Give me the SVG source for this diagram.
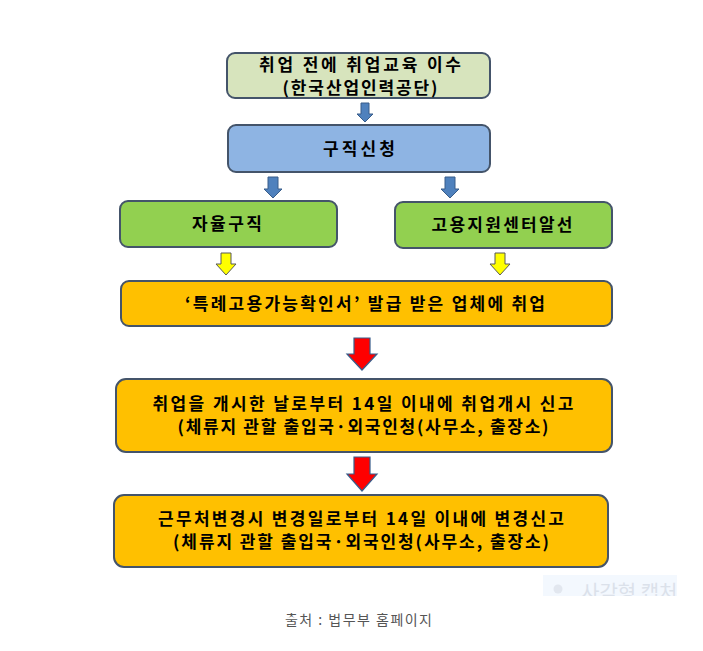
<svg xmlns="http://www.w3.org/2000/svg" width="703" height="651" viewBox="0 0 703 651">
<style>
  .box { stroke: #44546a; stroke-width: 2; }
  .t { font-family: "Noto Sans CJK KR", "Noto Sans", sans-serif; font-weight: bold; font-size: 17px; fill: #000; text-anchor: middle; }
  .blue { fill: #4f81bd; stroke: #385d8a; stroke-width: 1; }
  .yellow { fill: #ffff00; stroke: #595959; stroke-width: 1; }
  .red { fill: #ff0000; stroke: #385d8a; stroke-width: 1.2; }
  .cap { font-family: "Noto Sans CJK KR", "Noto Sans", sans-serif; font-size: 14px; fill: #555; }
</style>
<rect width="703" height="651" fill="#fff"/>

<g id="connectors">
  <polygon class="blue" points="361,103 369,103 369,114 373,114 365,122 357,114 361,114"/>
  <polygon class="blue" points="268,177 278,177 278,189 282,189 273,198 264,189 268,189"/>
  <polygon class="blue" points="445,177 455,177 455,189 459,189 450,198 441,189 445,189"/>
  <polygon class="yellow" points="221,253 231,253 231,264 236,264 226,275 216,264 221,264"/>
  <polygon class="yellow" points="495,253 505,253 505,264 510,264 500,275 490,264 495,264"/>
  <polygon class="red" points="354,338 370,338 370,354 377,354 362,370 347,354 354,354"/>
  <polygon class="red" points="354,457 370,457 370,474 377,474 362,491 347,474 354,474"/>
</g>

<g id="node-training">
  <rect class="box" x="227" y="53" width="263" height="45" rx="8" fill="#d7e4bd"/>
  <text class="t" x="360" y="71" font-size="16.5" textLength="202" lengthAdjust="spacing">취업 전에 취업교육 이수</text>
  <text class="t" x="360" y="94" font-size="16.5" textLength="155" lengthAdjust="spacing">(한국산업인력공단)</text>
</g>

<g id="node-apply">
  <rect class="box" x="228" y="125" width="262" height="47" rx="8" fill="#8eb4e3"/>
  <text class="t" x="359" y="155" textLength="72" lengthAdjust="spacing">구직신청</text>
</g>

<g id="node-self">
  <rect class="box" x="120" y="201" width="217" height="46" rx="8" fill="#92d050"/>
  <text class="t" x="227" y="230" textLength="70" lengthAdjust="spacing">자율구직</text>
</g>

<g id="node-center">
  <rect class="box" x="395" y="202" width="217" height="46" rx="8" fill="#92d050"/>
  <text class="t" x="502" y="231" textLength="141" lengthAdjust="spacing">고용지원센터알선</text>
</g>

<g id="node-employ">
  <rect class="box" x="121" y="281" width="491" height="45" rx="8" fill="#ffc000"/>
  <text class="t" x="365" y="310" textLength="360" lengthAdjust="spacing">‘특례고용가능확인서’ 발급 받은 업체에 취업</text>
</g>

<g id="node-report">
  <rect class="box" x="116" y="379" width="496" height="73" rx="10" fill="#ffc000"/>
  <text class="t" x="363" y="410" textLength="421" lengthAdjust="spacing">취업을 개시한 날로부터 14일 이내에 취업개시 신고</text>
  <text class="t" x="363" y="433" textLength="371" lengthAdjust="spacing">(체류지 관할 출입국·외국인청(사무소, 출장소)</text>
</g>

<g id="node-change">
  <rect class="box" x="114" y="495" width="494" height="72" rx="10" fill="#ffc000"/>
  <text class="t" x="361" y="525" textLength="406" lengthAdjust="spacing">근무처변경시 변경일로부터 14일 이내에 변경신고</text>
  <text class="t" x="361" y="548" textLength="376" lengthAdjust="spacing">(체류지 관할 출입국·외국인청(사무소, 출장소)</text>
</g>

<g id="watermark">
  <clipPath id="wm"><rect x="543" y="575" width="134" height="21"/></clipPath>
  <rect x="543" y="575" width="134" height="21" fill="#f3f8fe"/>
  <g clip-path="url(#wm)">
    <circle cx="558" cy="589" r="4.5" fill="#e2e7ef"/>
    <text x="581" y="600" font-family="Noto Sans CJK KR, sans-serif" font-size="20" fill="#dbe1ea">사각형 캡처</text>
  </g>
</g>

<text class="cap" x="285" y="625" textLength="147" lengthAdjust="spacing">출처 : 법무부 홈페이지</text>
</svg>
